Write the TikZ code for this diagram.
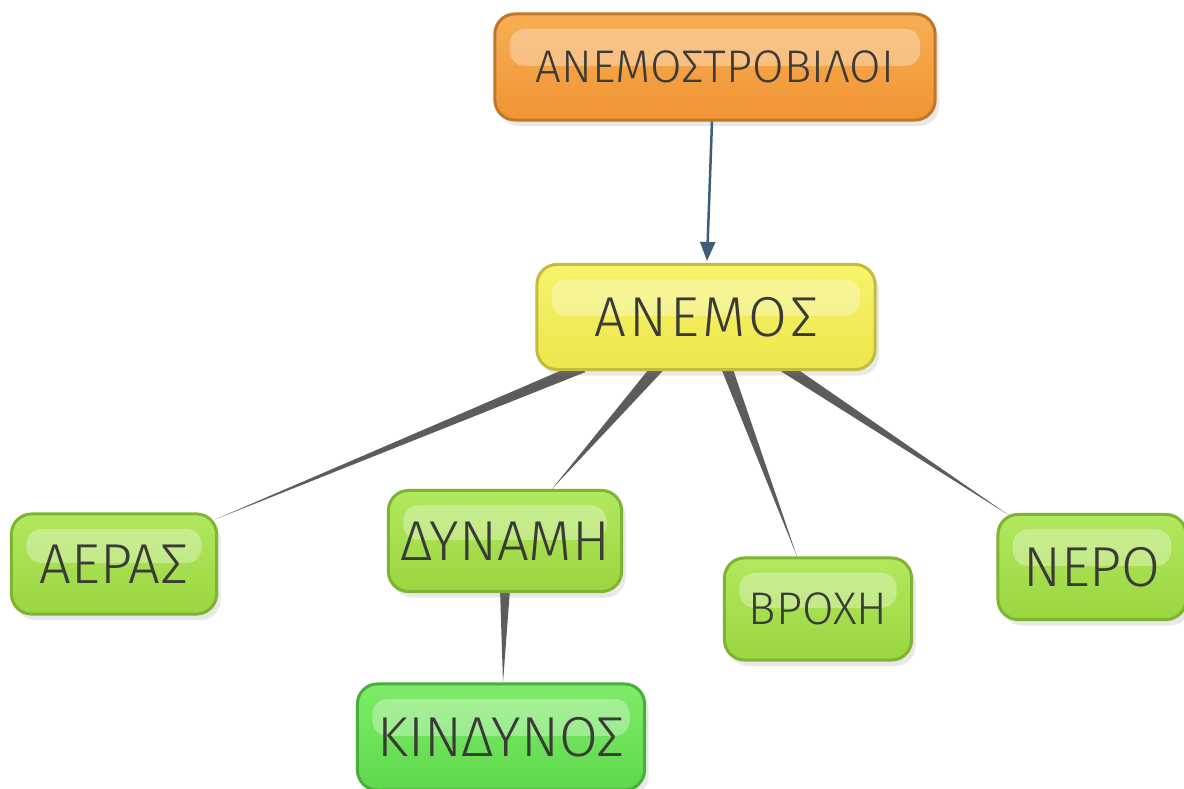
\documentclass[tikz,border=0pt]{standalone}
\usepackage{fontspec}
\newfontfamily\handfont{Fira Sans}[UprightFont=* Light]
\usetikzlibrary{arrows.meta,calc,shadows,backgrounds}

\definecolor{orangebase}{HTML}{F09434}
\definecolor{orangetop}{HTML}{F8AE55}
\definecolor{orangeline}{HTML}{C27628}
\definecolor{yellowbase}{HTML}{EDE64C}
\definecolor{yellowtop}{HTML}{F7F36C}
\definecolor{yellowline}{HTML}{C4BC3C}
\definecolor{limebase}{HTML}{9AD640}
\definecolor{limetop}{HTML}{B2E85E}
\definecolor{limeline}{HTML}{7FB332}
\definecolor{greenbase}{HTML}{5ED84C}
\definecolor{greentop}{HTML}{7EEC6A}
\definecolor{greenline}{HTML}{48B03A}
\definecolor{handink}{HTML}{3A3A36}
\definecolor{taper}{HTML}{5C5C5C}
\definecolor{arrowblue}{HTML}{3E5E76}

\tikzset{
  bubble/.style n args={3}{draw=#3, line width=0.3mm, rounded corners=2mm,
    top color=#2, bottom color=#1, inner sep=0pt,
    drop shadow={shadow xshift=0.4mm, shadow yshift=-0.6mm, opacity=0.18},
    path picture={\fill[white, opacity=0.32, rounded corners=1.5mm]
      ($(path picture bounding box.north west)+(1.5mm,-1.5mm)$) rectangle
      ($(path picture bounding box.east)+(-1.5mm,0.1mm)$);},
    font=\handfont\fontsize{16}{16}\selectfont, text=handink},
  orangebox/.style={bubble={orangebase}{orangetop}{orangeline}},
  yellowbox/.style={bubble={yellowbase}{yellowtop}{yellowline}},
  limebox/.style={bubble={limebase}{limetop}{limeline}},
  greenbox/.style={bubble={greenbase}{greentop}{greenline}},
  smallhand/.style={font=\handfont\fontsize{13}{13}\selectfont},
  arrowline/.style={arrowblue, line width=0.25mm, -{Triangle[length=1.9mm, width=1.5mm]}}
}

% wedge shaped link, wide at the parent end
\newcommand{\wedgelink}[3]{\fill[taper] ($(#1)!#3!90:(#2)$) -- ($(#1)!#3!-90:(#2)$) -- (#2) -- cycle;}

\begin{document}
\begin{tikzpicture}[x=0.01cm, y=-0.01cm]
  \useasboundingbox (0,0) rectangle (1184,789);

  \node[orangebox, smallhand, minimum width=4.40cm, minimum height=1.06cm] (top) at (715,67) {ΑΝΕΜΟΣΤΡΟΒΙΛΟΙ};
  \node[yellowbox, minimum width=3.38cm, minimum height=1.05cm] (anemos) at (706,317) {\addfontfeature{LetterSpace=6}ΑΝΕΜΟΣ};
  \node[limebox, minimum width=2.05cm, minimum height=1.00cm] (aeras) at (114,564) {ΑΕΡΑΣ};
  \node[limebox, minimum width=2.33cm, minimum height=1.01cm] (dynami) at (505,541) {ΔΥΝΑΜΗ};
  \node[limebox, smallhand, minimum width=1.87cm, minimum height=1.02cm] (vroxi) at (818,609) {ΒΡΟΧΗ};
  \node[limebox, minimum width=1.88cm, minimum height=1.05cm] (nero) at (1092,567) {ΝΕΡΟ};
  \node[greenbox, minimum width=2.87cm, minimum height=1.06cm] (kindynos) at (501,737) {ΚΙΝΔΥΝΟΣ};

  \draw[arrowline] ($(top.south)+(-3,0)$) -- ($(anemos.north)+(1,-2)$);

  \begin{pgfonlayer}{background}
    \fill[white] (0,0) rectangle (1184,789);
    \wedgelink{$(anemos.south west)!0.14!(anemos.south east)+(0,-4)$}{$(aeras.north east)+(-3,7)$}{0.55mm}
    \wedgelink{$(anemos.south west)!0.36!(anemos.south east)+(0,-4)$}{$(dynami.north)+(47,0)$}{0.6mm}
    \wedgelink{$(anemos.south west)!0.56!(anemos.south east)+(0,-4)$}{$(vroxi.north)+(-21,0)$}{0.55mm}
    \wedgelink{$(anemos.south west)!0.73!(anemos.south east)+(0,-4)$}{$(nero.north west)+(12,2)$}{0.55mm}
    \wedgelink{$(dynami.south)+(0,-4)$}{$(kindynos.north)+(2,0)$}{0.5mm}
  \end{pgfonlayer}
\end{tikzpicture}
\end{document}
